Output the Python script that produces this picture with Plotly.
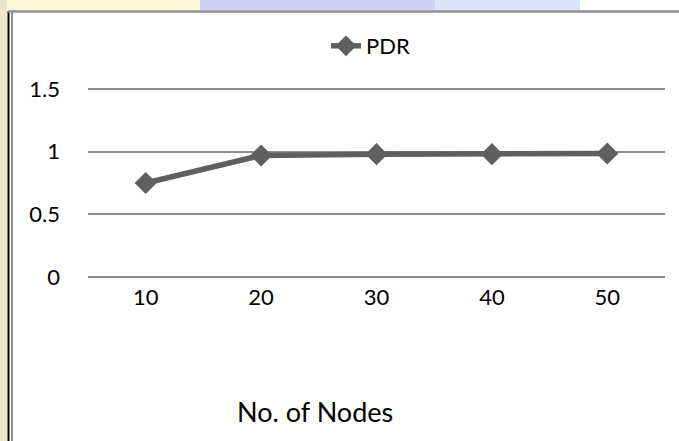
import plotly.graph_objects as go

nodes = ["10", "20", "30", "40", "50"]
pdr = [0.75, 0.97, 0.98, 0.98, 0.985]
y_ticks = [0, 0.5, 1, 1.5]
y_tick_labels = ["0", "0.5", "1", "1.5"]

W, H = 679, 441
L, R, T, B = 88, 14, 85, 164
PW, PH = W - L - R, H - T - B
FONT = "Lato, 'Open Sans', sans-serif"


def px(xp):
    return (xp - L) / PW


def py(yp):
    return 1 - (yp - T) / PH


fig = go.Figure()
fig.add_trace(go.Scatter(
    x=nodes, y=pdr, name="PDR", mode="lines+markers",
    line=dict(color="#5f5f5f", width=5.5),
    marker=dict(symbol="diamond", size=17, color="#5f5f5f"),
))

shapes = [
    dict(type="rect", xref="paper", yref="paper", x0=px(0), x1=px(200),
         y0=py(0), y1=py(10), fillcolor="#fcf7d6", line_width=0, layer="below"),
    dict(type="rect", xref="paper", yref="paper", x0=px(200), x1=px(435),
         y0=py(0), y1=py(10), fillcolor="#cfd0f6", line_width=0, layer="below"),
    dict(type="rect", xref="paper", yref="paper", x0=px(435), x1=px(580),
         y0=py(0), y1=py(10), fillcolor="#d9e6fa", line_width=0, layer="below"),
    dict(type="rect", xref="paper", yref="paper", x0=px(0), x1=px(7),
         y0=py(H + 2), y1=py(0), fillcolor="#ece4cc", line_width=0, layer="below"),
    dict(type="line", xref="paper", yref="paper", x0=px(8.5), x1=px(8.5),
         y0=py(H + 2), y1=py(11), line=dict(color="black", width=2)),
    dict(type="line", xref="paper", yref="paper", x0=px(12), x1=px(12),
         y0=py(H + 2), y1=py(11), line=dict(color="#8f8f8f", width=2)),
    dict(type="line", xref="paper", yref="paper", x0=px(8), x1=px(W + 2),
         y0=py(11.5), y1=py(11.5), line=dict(color="#8f8f8f", width=2.5)),
]

fig.update_layout(
    width=W, height=H,
    margin=dict(l=L, r=R, t=T, b=B, autoexpand=False),
    paper_bgcolor="white", plot_bgcolor="white",
    font=dict(family=FONT, size=22, color="black"),
    showlegend=True,
    legend=dict(x=px(326), y=py(25), xanchor="left", yanchor="top",
                orientation="h", bgcolor="rgba(0,0,0,0)", font=dict(size=22)),
    xaxis=dict(type="category", range=[-0.5, 4.5], showgrid=False, showline=False,
               ticks="", zeroline=False, tickfont=dict(size=22), ticklabelstandoff=5),
    yaxis=dict(range=[0, 1.5 * PH / 188], tickvals=y_ticks, ticktext=y_tick_labels,
               showgrid=True, gridcolor="#8c8c8c", gridwidth=1.5, zeroline=True,
               zerolinecolor="#8c8c8c", zerolinewidth=1.5, showline=False, ticks="",
               tickfont=dict(size=22), ticklabelstandoff=27),
    shapes=shapes,
    annotations=[dict(text="No. of Nodes", xref="paper", yref="paper",
                      x=px(315), y=py(411), xanchor="center", yanchor="middle",
                      showarrow=False, font=dict(size=27))],
)
fig.write_html("out.html", config=dict(displayModeBar=False),
               post_script="document.body.style.margin='0';document.body.style.overflow='hidden';")
